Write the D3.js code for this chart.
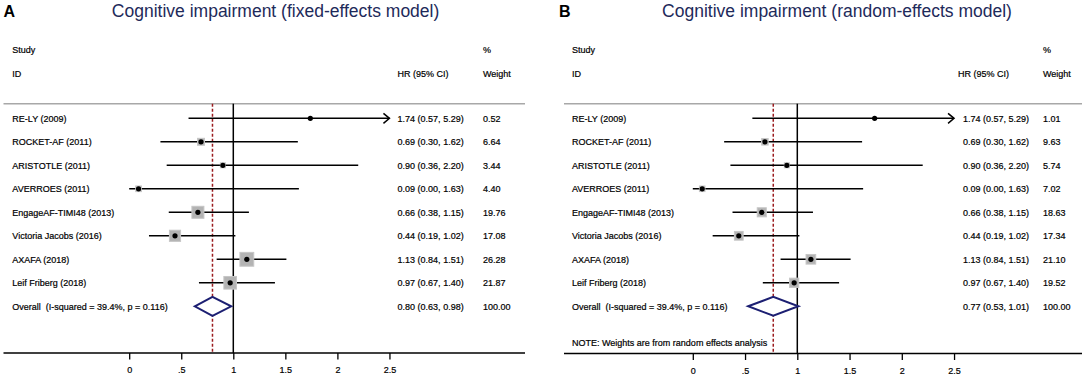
<!DOCTYPE html>
<html>
<head>
<meta charset="utf-8">
<script src="https://cdn.jsdelivr.net/npm/d3@7"></script>
<style>
  body { margin: 0; background: #fff; }
  svg { display: block; font-family: Arial, "Liberation Sans", sans-serif; }
  text { white-space: pre; }
</style>
</head>
<body>
<div id="chart"></div>
<script>
// study data (same HR / CI in both panels, weights differ)
const studies = ["RE-LY (2009)", "ROCKET-AF (2011)", "ARISTOTLE (2011)", "AVERROES (2011)",
  "EngageAF-TIMI48 (2013)", "Victoria Jacobs (2016)", "AXAFA (2018)", "Leif Friberg (2018)"];
const hr = [1.74, 0.69, 0.90, 0.09, 0.66, 0.44, 1.13, 0.97];
const lower = [0.57, 0.30, 0.36, 0.00, 0.38, 0.19, 0.84, 0.67];
const upper = [5.29, 1.62, 2.20, 1.63, 1.15, 1.02, 1.51, 1.40];
const weightsFixed = [0.52, 6.64, 3.44, 4.40, 19.76, 17.08, 26.28, 21.87];
const weightsRandom = [1.01, 9.63, 5.74, 7.02, 18.63, 17.34, 21.10, 19.52];
const overallFixed = [0.80, 0.63, 0.98];
const overallRandom = [0.77, 0.53, 1.01];
const overallLabel = "Overall  (I-squared = 39.4%, p = 0.116)";
const ticks = [0, 0.5, 1, 1.5, 2, 2.5];
const tickLabels = ["0", ".5", "1", "1.5", "2", "2.5"];

const width = 1091, height = 377;
const svg = d3.select("#chart").append("svg")
  .attr("width", width)
  .attr("height", height);

const fmt = d3.format(".2f");
const rowY = d3.scaleLinear().domain([0, 1]).range([118.3, 141.8]);

function drawPanel(cfg) {
  const g = svg.append("g");
  const x = d3.scaleLinear().domain([0, 2.5]).range([cfg.x0, cfg.x0 + 2.5 * cfg.unit]);
  const box = d3.scaleSqrt().domain([0, 1]).range([0, cfg.boxK]);

  g.append("text").attr("x", cfg.letterX).attr("y", 17)
    .attr("font-size", 16).attr("font-weight", "bold").text(cfg.letter);
  g.append("text").attr("x", cfg.titleX).attr("y", 16.5)
    .attr("text-anchor", "middle").attr("font-size", 17.5).attr("fill", "#1e2a5a")
    .text(cfg.title);

  // column headers
  const hdr = [["Study", cfg.labelX, 53], ["ID", cfg.labelX, 77.3], ["HR (95% CI)", cfg.hrHeadX, 77.3],
    ["%", cfg.wX, 53], ["Weight", cfg.wX, 77.3]];
  g.selectAll("text.hdr").data(hdr).enter().append("text")
    .attr("class", "hdr")
    .attr("x", d => d[1]).attr("y", d => d[2])
    .attr("font-size", 9).attr("stroke", "#000").attr("stroke-width", 0.2)
    .text(d => d[0]);

  g.append("line").attr("x1", cfg.left).attr("x2", cfg.right)
    .attr("y1", 103.7).attr("y2", 103.7)
    .attr("stroke", "#a8a8a8").attr("stroke-width", 1.5);

  const axisY = cfg.axisY;
  // null line and overall line
  g.append("line").attr("x1", x(1)).attr("x2", x(1)).attr("y1", 103.7).attr("y2", axisY)
    .attr("stroke", "#000").attr("stroke-width", 1.5);
  g.append("line").attr("x1", x(cfg.overall[0])).attr("x2", x(cfg.overall[0]))
    .attr("y1", 103.7).attr("y2", axisY)
    .attr("stroke", "#9b1c1f").attr("stroke-width", 1.5).attr("stroke-dasharray", "3,2");

  const rows = studies.map((s, i) => ({s, i, hr: hr[i], lo: lower[i], hi: upper[i], w: cfg.weights[i]}));

  g.selectAll("line.ci").data(rows).enter().append("line")
    .attr("class", "ci")
    .attr("x1", d => x(Math.max(0, d.lo))).attr("x2", d => x(Math.min(2.5, d.hi)))
    .attr("y1", d => rowY(d.i)).attr("y2", d => rowY(d.i))
    .attr("stroke", "#000").attr("stroke-width", 1.6);

  // arrows for clipped CIs
  g.selectAll("path.arrow").data(rows.filter(d => d.hi > 2.5)).enter().append("path")
    .attr("class", "arrow")
    .attr("d", d => `M${x(2.5) - 6},${rowY(d.i) - 5}L${x(2.5)},${rowY(d.i)}L${x(2.5) - 6},${rowY(d.i) + 5}`)
    .attr("fill", "none").attr("stroke", "#000").attr("stroke-width", 1.5);

  g.selectAll("rect.box").data(rows).enter().append("rect")
    .attr("class", "box")
    .attr("x", d => x(d.hr) - box(d.w) / 2).attr("y", d => rowY(d.i) - box(d.w) / 2)
    .attr("width", d => box(d.w)).attr("height", d => box(d.w))
    .attr("fill", "#b3b3b3").attr("stroke", "#c6c6c6").attr("stroke-width", 1);

  g.selectAll("circle.pt").data(rows).enter().append("circle")
    .attr("class", "pt")
    .attr("cx", d => x(d.hr)).attr("cy", d => rowY(d.i)).attr("r", 2.6)
    .attr("fill", "#000");

  // text columns
  const txt = (sel, cls) => sel.enter().append("text").attr("class", cls)
    .attr("font-size", 9).attr("stroke", "#000").attr("stroke-width", 0.2);
  txt(g.selectAll("text.lab").data(rows), "lab")
    .attr("x", cfg.labelX).attr("y", d => rowY(d.i) + 3.2).text(d => d.s);
  txt(g.selectAll("text.est").data(rows), "est")
    .attr("x", cfg.hrX).attr("y", d => rowY(d.i) + 3.2)
    .text(d => `${fmt(d.hr)} (${fmt(d.lo)}, ${fmt(d.hi)})`);
  txt(g.selectAll("text.wt").data(rows), "wt")
    .attr("x", cfg.wX).attr("y", d => rowY(d.i) + 3.2).text(d => fmt(d.w));

  // overall diamond
  const oy = rowY(8);
  const [est, lo, hi] = cfg.overall;
  g.append("path")
    .attr("d", `M${x(lo)},${oy}L${x(est)},${oy - 9.5}L${x(hi)},${oy}L${x(est)},${oy + 9.5}Z`)
    .attr("fill", "#fff").attr("stroke", "#1c1f72").attr("stroke-width", 2);
  const ov = [[overallLabel, cfg.labelX], [`${fmt(est)} (${fmt(lo)}, ${fmt(hi)})`, cfg.hrX], ["100.00", cfg.wX]];
  txt(g.selectAll("text.ov").data(ov), "ov")
    .attr("x", d => d[1]).attr("y", oy + 3.2).text(d => d[0]);

  if (cfg.note) {
    txt(g.selectAll("text.note").data([cfg.note]), "note")
      .attr("x", cfg.labelX).attr("y", axisY - 8).text(d => d);
  }

  // x axis
  g.append("line").attr("x1", cfg.left).attr("x2", cfg.right).attr("y1", axisY).attr("y2", axisY)
    .attr("stroke", "#000").attr("stroke-width", 1.3);
  const axis = d3.axisBottom(x).tickValues(ticks).tickSize(6.5).tickPadding(7.5)
    .tickFormat((d, i) => tickLabels[i]);
  const ax = g.append("g").attr("transform", `translate(0,${axisY})`).call(axis);
  ax.select(".domain").remove();
  ax.selectAll(".tick line").attr("stroke", "#000").attr("stroke-width", 1.3);
  ax.selectAll(".tick text").attr("font-size", 9).attr("fill", "#000")
    .attr("font-family", "Arial, 'Liberation Sans', sans-serif")
    .attr("stroke", "#000").attr("stroke-width", 0.2);
}

drawPanel({
  letter: "A", letterX: 3.5, title: "Cognitive impairment (fixed-effects model)", titleX: 275.6,
  x0: 129.2, unit: 104.1, left: 3.5, right: 525, axisY: 353,
  labelX: 12.3, hrHeadX: 397.6, hrX: 397.6, wX: 483,
  weights: weightsFixed, overall: overallFixed, boxK: 2.7
});
drawPanel({
  letter: "B", letterX: 559, title: "Cognitive impairment (random-effects model)", titleX: 837,
  x0: 692.8, unit: 104.5, left: 564, right: 1082, axisY: 353.5,
  labelX: 572, hrHeadX: 958, hrX: 963, wX: 1043,
  weights: weightsRandom, overall: overallRandom, boxK: 2.1,
  note: "NOTE: Weights are from random effects analysis"
});
</script>
</body>
</html>
